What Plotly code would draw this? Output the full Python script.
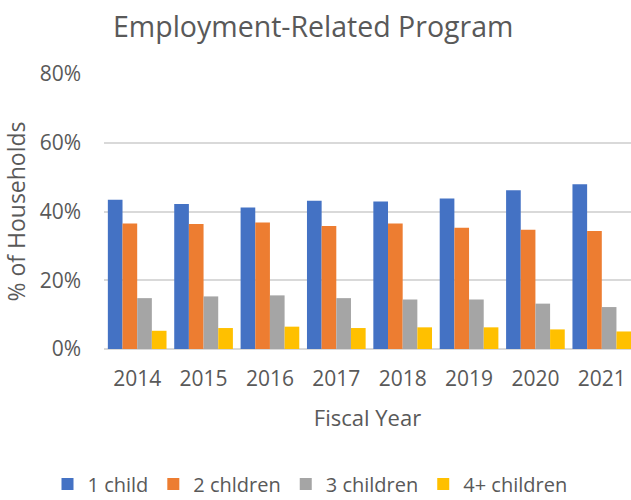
import plotly.graph_objects as go

# Fiscal years on the category axis
years = ["2014", "2015", "2016", "2017", "2018", "2019", "2020", "2021"]

# Share of households (fraction) by number of children
one_child = [0.434, 0.422, 0.412, 0.431, 0.429, 0.438, 0.462, 0.479]
two_children = [0.365, 0.364, 0.368, 0.358, 0.365, 0.353, 0.347, 0.343]
three_children = [0.148, 0.153, 0.156, 0.148, 0.144, 0.144, 0.132, 0.122]
four_plus_children = [0.053, 0.061, 0.065, 0.061, 0.063, 0.063, 0.057, 0.051]

series_names = ["1 child", "2 chldren", "3 children", "4+ children"]
series_values = [one_child, two_children, three_children, four_plus_children]
series_colors = ["#4472C4", "#ED7D31", "#A5A5A5", "#FFC000"]

FONT = "Open Sans, Calibri, sans-serif"
TEXT_COLOR = "#595959"

fig = go.Figure()
for name, vals, color in zip(series_names, series_values, series_colors):
    fig.add_trace(go.Bar(
        x=years, y=vals, name=name,
        marker=dict(color=color, line=dict(width=0)),
    ))

fig.update_layout(
    width=631, height=500,
    margin=dict(l=104, r=0, t=74, b=151, autoexpand=False),
    paper_bgcolor="white", plot_bgcolor="white",
    barmode="group", bargap=0.116, bargroupgap=0,
    font=dict(family=FONT, color=TEXT_COLOR, size=20),
    title=dict(
        text="Employment-Related Program",
        font=dict(family=FONT, size=28.5, color=TEXT_COLOR),
        x=113 / 631, xanchor="left", xref="container",
        y=1 - 27 / 500, yanchor="middle", yref="container",
    ),
    legend=dict(
        orientation="h",
        x=47.5 / 631, xanchor="left", xref="container",
        y=1 - 484 / 500, yanchor="middle", yref="container",
        font=dict(family=FONT, size=20, color=TEXT_COLOR),
        itemclick=False, itemdoubleclick=False,
        traceorder="normal",
    ),
    showlegend=True,
)

fig.update_xaxes(
    type="category",
    range=[-0.5, 7.44],
    showgrid=False,
    showline=False,
    ticks="",
    ticklabelstandoff=15,
    tickfont=dict(family=FONT, size=21, color=TEXT_COLOR),
    title=dict(text="Fiscal Year", font=dict(family=FONT, size=22, color=TEXT_COLOR), standoff=19),
)

fig.update_yaxes(
    range=[0, 0.8],
    dtick=0.2,
    tickformat=".0%",
    showgrid=True, gridcolor="#D9D9D9", gridwidth=2,
    zeroline=True, zerolinecolor="#D9D9D9", zerolinewidth=2,
    showline=False,
    ticks="",
    ticklabelstandoff=22,
    tickfont=dict(family=FONT, size=21, color=TEXT_COLOR),
    title=dict(text="% of Households", font=dict(family=FONT, size=23, color=TEXT_COLOR), standoff=11),
)

fig.write_html("out.html")
